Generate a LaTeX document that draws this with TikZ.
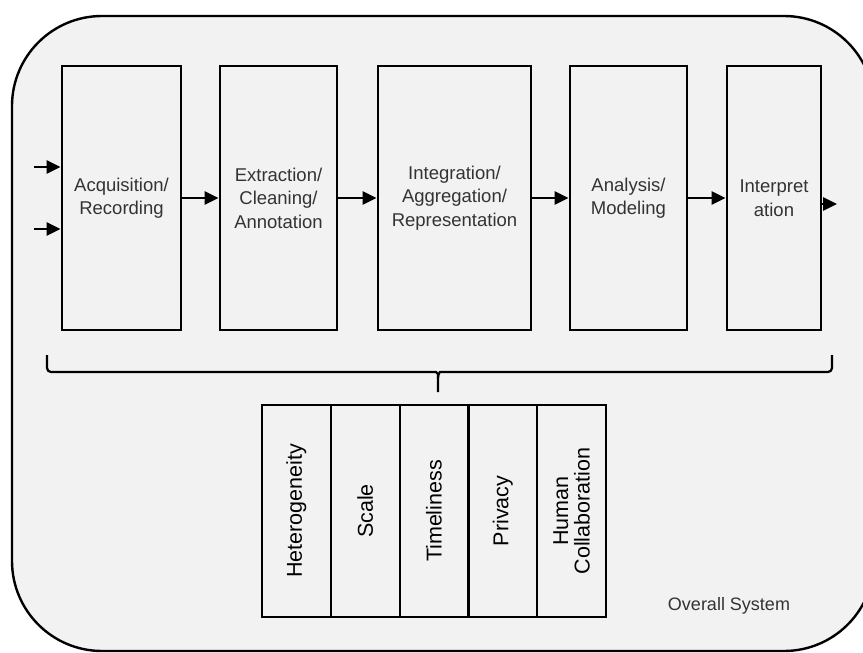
\documentclass[tikz,border=0pt]{standalone}
\usepackage{fontspec}
\setmainfont{Liberation Sans}
\usetikzlibrary{arrows.meta}
\definecolor{panel}{HTML}{F2F2F2}
\definecolor{txt}{HTML}{333333}
\tikzset{
  stagebox/.style={draw=black, line width=2.8pt, inner sep=0pt, align=center,
    text=txt, font=\fontsize{18.5}{23.5}\selectfont, minimum height=264pt},
  factorbox/.style={draw=black, line width=2.2pt, inner sep=0pt, align=center,
    rotate=90, minimum width=212pt, minimum height=68.8pt,
    font=\fontsize{21.5}{21.5}\selectfont},
  flow/.style={line width=2.8pt, -{Triangle[length=14pt,width=13pt]}},
  bracket/.style={line width=2.2pt}
}
\begin{document}
\begin{tikzpicture}[x=1pt,y=-1pt]
\useasboundingbox (0,0) rectangle (863,653);
\clip (0,0) rectangle (863,653);
% outer panel
\draw[fill=panel, line width=2.4pt, rounded corners=90pt] (12,16) rectangle (874,651);
% stages
\node[stagebox, minimum width=119pt] (a1) at (121.5,198) {Acquisition/\\Recording};
\node[stagebox, minimum width=117pt] (a2) at (278.5,198) {Extraction/\\Cleaning/\\Annotation};
\node[stagebox, minimum width=153pt] (a3) at (454.5,198) {Integration/\\Aggregation/\\Representation};
\node[stagebox, minimum width=117pt] (a4) at (628.5,198) {Analysis/\\Modeling};
\node[stagebox, minimum width=94pt] (a5) at (774,198) {Interpret\\ation};
% inputs / outputs
\coordinate (in1) at (34,167);
\coordinate (in2) at (34,229);
\coordinate (out) at (837,204);
\draw[flow] (in1) -- (a1.west |- in1);
\draw[flow] (in2) -- (a1.west |- in2);
\draw[flow] (a1) -- (a2);
\draw[flow] (a2) -- (a3);
\draw[flow] (a3) -- (a4);
\draw[flow] (a4) -- (a5);
\draw[flow] (a5.east |- out) -- (out);
% bracket
\coordinate (bl) at (47,355);
\coordinate (br) at (832,355);
\coordinate (stem) at (438,392);
\draw[bracket, rounded corners=4pt] (bl) -- (47,372) -- (432,372)
  .. controls (436,372) and (438,374) .. (438,378) -- (stem);
\draw[bracket, rounded corners=4pt] (br) -- (832,372) -- (444,372)
  .. controls (440,372) and (438,374) .. (438,378);
% factors
\node[factorbox] (c1) at (296.4,511) {Heterogeneity};
\node[factorbox] (c2) at (365.2,511) {Scale};
\node[factorbox] (c3) at (434.0,511) {Timeliness};
\node[factorbox] (c4) at (502.8,511) {Privacy};
\node[factorbox] (c5) at (571.6,511) {Human\\Collaboration};
% caption
\node[text=txt, font=\fontsize{18}{20}\selectfont, inner sep=0pt] (sys) at (729,606) {Overall System};
\end{tikzpicture}
\end{document}
